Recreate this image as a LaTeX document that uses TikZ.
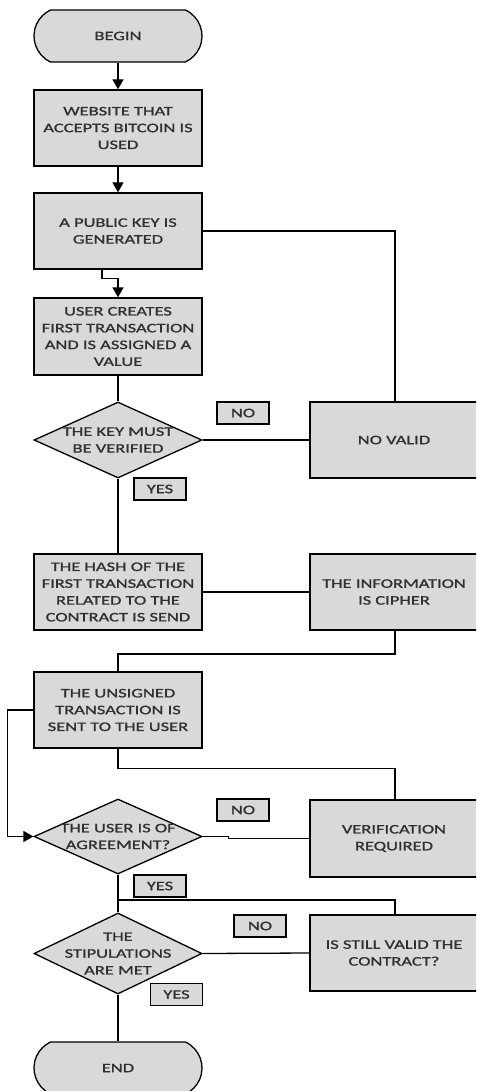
\documentclass[tikz,border=0pt]{standalone}
\usepackage{fontspec}
\setmainfont{Carlito}[FakeStretch=1.42, FakeBold=1.2]
\usetikzlibrary{arrows.meta,shapes.geometric,shapes.misc}
\definecolor{boxgray}{HTML}{D9D9D9}
\definecolor{txt}{HTML}{303030}
\begin{document}
\begin{tikzpicture}[x=1pt,y=-1pt,
  every node/.style={font=\fontsize{13}{16.8}\selectfont, text=txt},
  base/.style={draw=black, fill=boxgray, line width=1.3pt, inner sep=0pt, align=center},
  term/.style={base, rounded rectangle, rounded rectangle arc length=130, minimum width=168pt, minimum height=52pt},
  proc/.style={base, rectangle, minimum width=168pt, minimum height=76pt},
  side/.style={base, rectangle, minimum width=184pt, minimum height=76pt},
  sidetext/.style={align=center, xshift=-8pt},
  dec/.style={base, diamond, minimum width=168pt, minimum height=76pt},
  tag/.style={base, rectangle, minimum width=52pt, minimum height=22pt},
  conn/.style={line width=1.3pt, draw=black},
  arr/.style={conn, -{Triangle[width=11pt,length=10pt]}}
]
\useasboundingbox (0,0) rectangle (476,1091);
\clip (0,0) rectangle (476,1091);
\fill[white] (0,0) rectangle (476,1091);

% main column
\node[term] (begin) at (118,36) {BEGIN};
\node[proc] (web) at (118,128) {WEBSITE THAT\\ACCEPTS BITCOIN IS\\USED};
\node[proc] (pub) at (118,231) {A PUBLIC KEY IS\\GENERATED};
\node[proc, minimum height=77pt] (user) at (118,336.5) {USER CREATES\\FIRST TRANSACTION\\AND IS ASSIGNED A\\VALUE};
\node[dec, label={[align=center]center:THE KEY MUST\\BE VERIFIED}] (key) at (118,440) {};
\node[proc] (hash) at (118,592) {THE HASH OF THE\\FIRST TRANSACTION\\RELATED TO THE\\CONTRACT IS SEND};
\node[proc] (uns) at (118,710) {THE UNSIGNED\\TRANSACTION IS\\SENT TO THE USER};
\node[dec, minimum height=75pt, label={[align=center]center:THE USER IS OF\\AGREEMENT?}] (agree) at (118,836.5) {};
\node[dec, minimum height=81pt, label={[align=center]center:THE\\STIPULATIONS\\ARE MET}] (stip) at (118,953.5) {};
\node[term] (end) at (118,1068) {END};

% right column (boxes run past the right edge of the picture)
\node[side, label={[sidetext]center:NO VALID}] (novalid) at (402,440) {};
\node[side, label={[sidetext]center:THE INFORMATION\\IS CIPHER}] (info) at (402,592) {};
\node[side, minimum height=77pt, label={[sidetext]center:VERIFICATION\\REQUIRED}] (verif) at (402,838.5) {};
\node[side, label={[sidetext]center:IS STILL VALID THE\\CONTRACT?}] (still) at (402,953) {};

% tags
\node[tag] (no1) at (243,413) {NO};
\node[tag] (yes1) at (160,489) {YES};
\node[tag] (no2) at (243,810) {NO};
\node[tag] (yes2) at (160,886) {YES};
\node[tag] (no3) at (260,926) {NO};
\node[tag] (yes3) at (176.5,994.5) {YES};

% connectors
\coordinate (kn) at (395,402);
\coordinate (vn) at (395,800);
\coordinate (sn) at (395,915);
\coordinate (is) at (395,630);
\draw[arr] (begin.south) -- (web.north);
\draw[arr] (web.south) -- (pub.north);
\draw[arr] ([xshift=-16pt]pub.south) -- ++(0,9) -| (user.north);
\draw[conn] (pub.east) -| (kn);
\draw[conn] (user.south) -- (key.north);
\draw[conn] (key.east) -- (novalid.west);
\draw[conn] (key.south) -- (hash.north);
\draw[conn] (hash.east) -- (info.west);
\draw[conn] (is) -- ++(0,24) -| (uns.north);
\draw[arr] (uns.west) -- ++(-26,0) |- (agree.west);
\draw[conn] (uns.south) -- ++(0,20) -| (vn);
\draw[conn] (agree.east) -- ++(26,0) |- (verif.west);
\draw[conn] (agree.south) -- (stip.north);
\coordinate (br) at (118,900);
\draw[conn] (br) -| (sn);
\draw[conn] (stip.east) -- (still.west);
\draw[conn] (stip.south) -- (end.north);
\end{tikzpicture}
\end{document}
